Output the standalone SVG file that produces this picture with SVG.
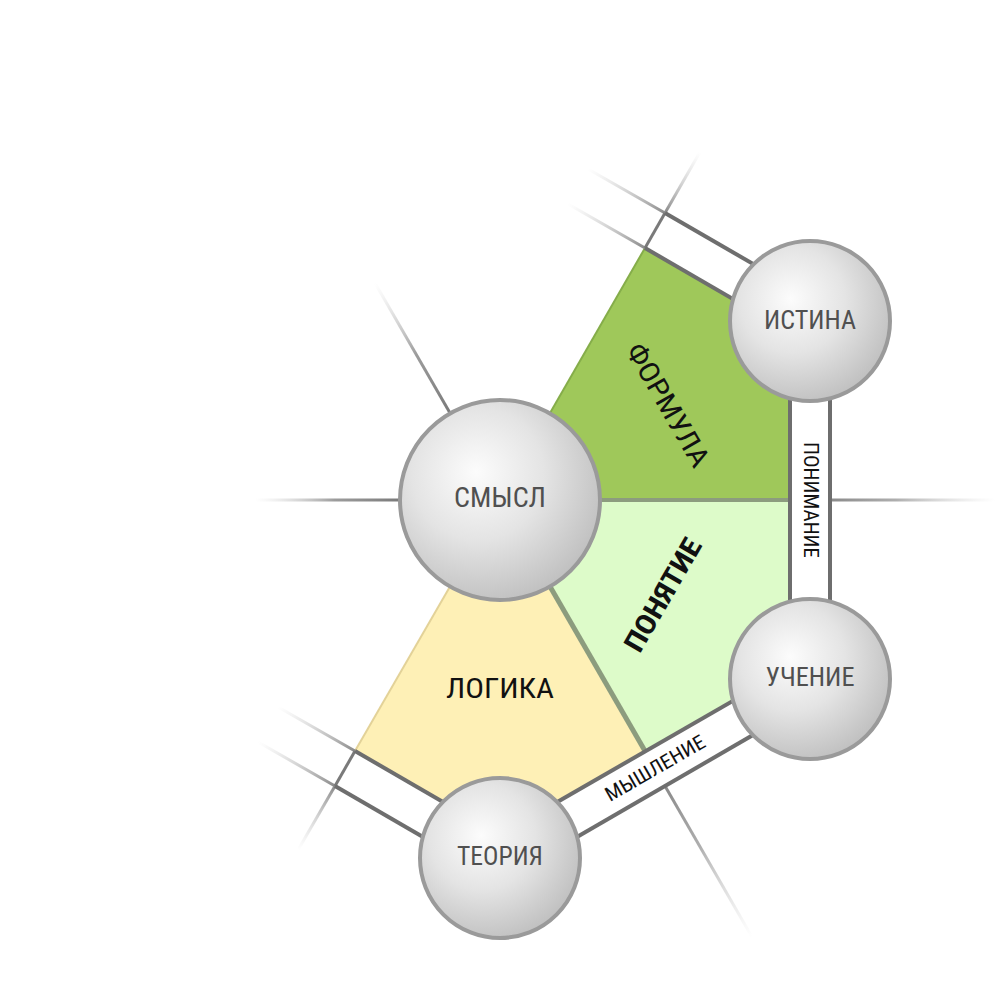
<svg xmlns="http://www.w3.org/2000/svg" width="1000" height="1000" viewBox="0 0 1000 1000">
<defs>
<radialGradient id="ball" cx="0.4" cy="0.38" r="0.66" fx="0.38" fy="0.36">
<stop offset="0" stop-color="#fcfcfc"/>
<stop offset="0.5" stop-color="#e4e4e4"/>
<stop offset="1" stop-color="#bfbfbf"/>
</radialGradient>
<linearGradient id="f1" gradientUnits="userSpaceOnUse" x1="400" y1="500" x2="255" y2="500"><stop offset="0" stop-color="#7a7a7a"/><stop offset="0.45" stop-color="#8a8a8a" stop-opacity="0.85"/><stop offset="1" stop-color="#cccccc" stop-opacity="0"/></linearGradient>
<linearGradient id="f2" gradientUnits="userSpaceOnUse" x1="450" y1="413" x2="375" y2="283"><stop offset="0" stop-color="#7a7a7a"/><stop offset="0.45" stop-color="#8a8a8a" stop-opacity="0.85"/><stop offset="1" stop-color="#cccccc" stop-opacity="0"/></linearGradient>
<linearGradient id="f3" gradientUnits="userSpaceOnUse" x1="665" y1="213" x2="700" y2="152"><stop offset="0" stop-color="#8a8a8a"/><stop offset="1" stop-color="#cccccc" stop-opacity="0"/></linearGradient>
<linearGradient id="f4" gradientUnits="userSpaceOnUse" x1="645" y1="248" x2="568" y2="204"><stop offset="0" stop-color="#8a8a8a"/><stop offset="1" stop-color="#cccccc" stop-opacity="0"/></linearGradient>
<linearGradient id="f5" gradientUnits="userSpaceOnUse" x1="665" y1="213" x2="588" y2="169"><stop offset="0" stop-color="#8a8a8a"/><stop offset="1" stop-color="#cccccc" stop-opacity="0"/></linearGradient>
<linearGradient id="f6" gradientUnits="userSpaceOnUse" x1="830" y1="500" x2="995" y2="500"><stop offset="0" stop-color="#8a8a8a"/><stop offset="0.4" stop-color="#9a9a9a" stop-opacity="0.8"/><stop offset="1" stop-color="#cccccc" stop-opacity="0"/></linearGradient>
<linearGradient id="f7" gradientUnits="userSpaceOnUse" x1="665" y1="786" x2="752" y2="937"><stop offset="0" stop-color="#8a8a8a"/><stop offset="0.4" stop-color="#9a9a9a" stop-opacity="0.8"/><stop offset="1" stop-color="#cccccc" stop-opacity="0"/></linearGradient>
<linearGradient id="f8" gradientUnits="userSpaceOnUse" x1="335" y1="786" x2="298" y2="850"><stop offset="0" stop-color="#8a8a8a"/><stop offset="1" stop-color="#cccccc" stop-opacity="0"/></linearGradient>
<linearGradient id="f9" gradientUnits="userSpaceOnUse" x1="355" y1="751" x2="278" y2="707"><stop offset="0" stop-color="#8a8a8a"/><stop offset="1" stop-color="#cccccc" stop-opacity="0"/></linearGradient>
<linearGradient id="f10" gradientUnits="userSpaceOnUse" x1="335" y1="786" x2="258" y2="742"><stop offset="0" stop-color="#8a8a8a"/><stop offset="1" stop-color="#cccccc" stop-opacity="0"/></linearGradient>
</defs>
<style>
.ball{fill:url(#ball);stroke:#9a9a9a;stroke-width:4}
.lbl{font-family:"Roboto Condensed","Liberation Sans Narrow",Roboto,"Liberation Sans",sans-serif;fill:#505050;text-anchor:middle;dominant-baseline:central}
.sec{font-family:"Roboto Condensed","Liberation Sans Narrow",Roboto,"Liberation Sans",sans-serif;fill:#111;text-anchor:middle;dominant-baseline:central;font-size:28px}
.strip{font-family:"Roboto Condensed","Liberation Sans Narrow",Roboto,"Liberation Sans",sans-serif;fill:#111;text-anchor:middle;dominant-baseline:central;font-size:20px}
.edge{stroke:#6e6e6e;stroke-width:4;fill:none}
.cap{stroke:#7a7a7a;stroke-width:3;fill:none}
.fade{stroke-width:3;fill:none}
</style>
<rect width="1000" height="1000" fill="#ffffff"/>
<g id="regions">
<g id="formula">
<polygon points="500,500 645,248 790,332 790,500" fill="#9fc85a"/>
<line x1="500" y1="500" x2="645" y2="248" stroke="#85ad4a" stroke-width="2"/>
</g>
<g id="ponyatie">
<polygon points="500,500 790,500 790,668 645,751" fill="#ddfbc9"/>
</g>
<g id="logika">
<polygon points="500,500 645,751 500,835 355,751" fill="#fef0b6"/>
<line x1="500" y1="500" x2="355" y2="751" stroke="#e3d298" stroke-width="2"/>
</g>
<line x1="500" y1="500" x2="790" y2="500" stroke="#8c9c7e" stroke-width="4"/>
<line x1="500" y1="500" x2="645" y2="751" stroke="#8c9c7e" stroke-width="5"/>
</g>
<g id="connectors">
<line class="fade" x1="400" y1="500" x2="255" y2="500" stroke="url(#f1)"/>
<line class="fade" x1="450" y1="413" x2="375" y2="283" stroke="url(#f2)"/>
<line class="fade" x1="665" y1="213" x2="700" y2="152" stroke="url(#f3)"/>
<line class="fade" x1="645" y1="248" x2="568" y2="204" stroke="url(#f4)"/>
<line class="fade" x1="665" y1="213" x2="588" y2="169" stroke="url(#f5)"/>
<line class="fade" x1="830" y1="500" x2="995" y2="500" stroke="url(#f6)"/>
<line class="fade" x1="665" y1="786" x2="752" y2="937" stroke="url(#f7)"/>
<line class="fade" x1="335" y1="786" x2="298" y2="850" stroke="url(#f8)"/>
<line class="fade" x1="355" y1="751" x2="278" y2="707" stroke="url(#f9)"/>
<line class="fade" x1="335" y1="786" x2="258" y2="742" stroke="url(#f10)"/>
<line class="cap" x1="645" y1="248" x2="665" y2="213"/>
<line class="cap" x1="355" y1="751" x2="335" y2="786"/>
<g id="strip-top">
<line class="edge" x1="645" y1="248" x2="790" y2="332"/>
<line class="edge" x1="665" y1="213" x2="812" y2="298"/>
</g>
<g id="strip-ponimanie">
<line class="edge" x1="790" y1="332" x2="790" y2="668"/>
<line class="edge" x1="830" y1="320" x2="830" y2="680"/>
<text class="strip" transform="translate(811,500) rotate(90)" textLength="116" lengthAdjust="spacingAndGlyphs">ПОНИМАНИЕ</text>
</g>
<g id="strip-myshlenie">
<line class="edge" x1="790" y1="668" x2="500" y2="835"/>
<line class="edge" x1="810" y1="702" x2="520" y2="870"/>
<text class="strip" transform="translate(655,768) rotate(-30)" textLength="112" lengthAdjust="spacingAndGlyphs">МЫШЛЕНИЕ</text>
</g>
<g id="strip-left">
<line class="edge" x1="355" y1="751" x2="500" y2="835"/>
<line class="edge" x1="335" y1="786" x2="480" y2="870"/>
</g>
</g>
<g id="sector-labels">
<text class="sec" transform="translate(668,405) rotate(60)" textLength="138" lengthAdjust="spacingAndGlyphs">ФОРМУЛА</text>
<text class="sec" transform="translate(663,595) rotate(-60)" font-weight="bold" textLength="126" lengthAdjust="spacingAndGlyphs">ПОНЯТИЕ</text>
<text class="sec" x="500" y="688" textLength="108" lengthAdjust="spacingAndGlyphs">ЛОГИКА</text>
</g>
<g id="node-smysl">
<circle class="ball" cx="500" cy="500" r="100"/>
<text class="lbl" x="500" y="497" font-size="28" textLength="92" lengthAdjust="spacingAndGlyphs">СМЫСЛ</text>
</g>
<g id="node-istina">
<circle class="ball" cx="810" cy="321" r="80"/>
<text class="lbl" x="810" y="320" font-size="26" textLength="92" lengthAdjust="spacingAndGlyphs">ИСТИНА</text>
</g>
<g id="node-uchenie">
<circle class="ball" cx="810" cy="679" r="80"/>
<text class="lbl" x="810" y="677" font-size="26" textLength="89" lengthAdjust="spacingAndGlyphs">УЧЕНИЕ</text>
</g>
<g id="node-teoriya">
<circle class="ball" cx="500" cy="858" r="80"/>
<text class="lbl" x="500" y="856" font-size="26" textLength="86" lengthAdjust="spacingAndGlyphs">ТЕОРИЯ</text>
</g>
</svg>
